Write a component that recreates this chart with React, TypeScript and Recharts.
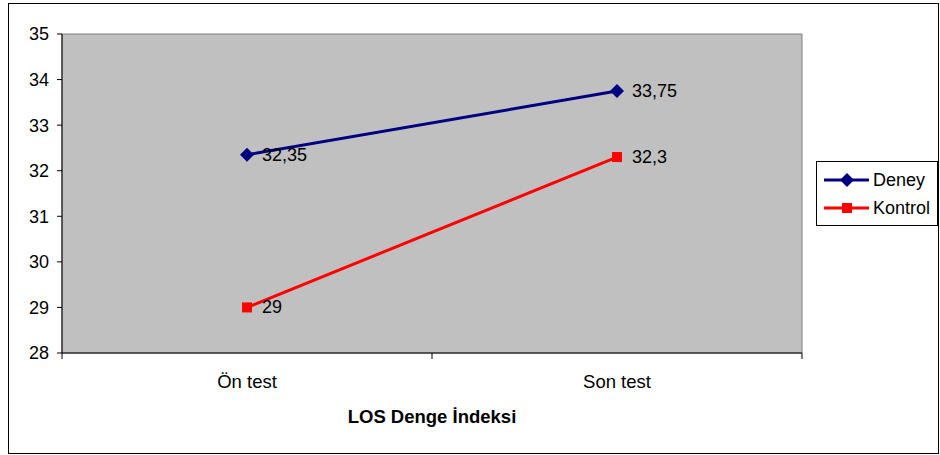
import { LineChart, Line, XAxis, YAxis, CartesianGrid, ReferenceArea, LabelList } from "recharts"

const categories = ["Ön test", "Son test"]
const deney = [32.35, 33.75]
const kontrol = [29, 32.3]
const yTicks = [28, 29, 30, 31, 32, 33, 34, 35]

const data = categories.map((name, i) => ({
  x: i + 0.5,
  name,
  deney: deney[i],
  kontrol: kontrol[i],
}))

const FONT = "'Liberation Sans', Arial, sans-serif"

const fmt = (v: number) => String(v).replace(".", ",")

// ticks sit between categories, labels sit at their centres
function XTick(props: any) {
  const { x, y, payload } = props
  const v = payload.value
  if (Number.isInteger(v)) {
    return <line x1={x} y1={y - 8} x2={x} y2={y - 2} stroke="#000" strokeWidth={1} />
  }
  const label = categories[Math.floor(v)]
  return (
    <text x={x} y={y + 27} textAnchor="middle" fontSize={18.5} fontFamily={FONT} fill="#000">
      {label}
    </text>
  )
}

function Diamond(props: any) {
  const { cx, cy } = props
  if (cx == null || cy == null) return null
  return <path d={`M${cx},${cy - 7} L${cx + 7},${cy} L${cx},${cy + 7} L${cx - 7},${cy} Z`} fill="#000080" />
}

function Square(props: any) {
  const { cx, cy } = props
  if (cx == null || cy == null) return null
  return <rect x={cx - 5} y={cy - 5} width={10} height={10} fill="#FF0000" />
}

function ValueLabel(props: any) {
  const { x, y, value } = props
  return (
    <text x={x + 15} y={y} dominantBaseline="central" fontSize={18} fontFamily={FONT} fill="#000">
      {fmt(value)}
    </text>
  )
}

function LegendBox() {
  const items = [
    { name: "Deney", color: "#000080", marker: "diamond" },
    { name: "Kontrol", color: "#FF0000", marker: "square" },
  ]
  return (
    <div
      style={{
        position: "absolute",
        left: 816,
        top: 161,
        width: 122,
        height: 65,
        border: "1px solid #000",
        background: "#fff",
        fontFamily: FONT,
        fontSize: 18,
        boxSizing: "border-box",
        paddingTop: 4,
      }}
    >
      {items.map((it) => (
        <div key={it.name} style={{ display: "flex", alignItems: "center", height: 28 }}>
          <svg width={52} height={20} style={{ marginLeft: 4 }}>
            <line x1={3} y1={10} x2={48} y2={10} stroke={it.color} strokeWidth={3} />
            {it.marker === "diamond" ? (
              <path d="M26,3 L33,10 L26,17 L19,10 Z" fill={it.color} />
            ) : (
              <rect x={21} y={5} width={10} height={10} fill={it.color} />
            )}
          </svg>
          <span style={{ color: "#000", lineHeight: 1 }}>{it.name}</span>
        </div>
      ))}
    </div>
  )
}

export default function App() {
  return (
    <div style={{ position: "absolute", left: 0, top: 0, width: 940, height: 455, background: "#fff" }}>
      <div
        style={{
          position: "absolute",
          left: 8,
          top: 3,
          width: 929,
          height: 449,
          border: "1px solid #000",
          boxSizing: "content-box",
        }}
      />
      <div style={{ position: "absolute", left: 0, top: 0 }}>
        <LineChart
          width={940}
          height={455}
          data={data}
          margin={{ top: 34, right: 138, bottom: 0, left: 0 }}
        >
          <CartesianGrid horizontal={false} vertical={false} fill="#C0C0C0" />
          <ReferenceArea x1={0} x2={2} y1={28} y2={35} fill="none" stroke="#808080" strokeWidth={1} />
          <XAxis
            dataKey="x"
            type="number"
            domain={[0, 2]}
            ticks={[0, 0.5, 1, 1.5, 2]}
            interval={0}
            height={102}
            tickLine={false}
            axisLine={{ stroke: "#000" }}
            tick={<XTick />}
            label={{
              value: "LOS Denge İndeksi",
              position: "insideBottom",
              offset: 32,
              style: { fontSize: 18.5, fontWeight: "bold", fontFamily: FONT, fill: "#000" },
            }}
          />
          <YAxis
            domain={[28, 35]}
            ticks={yTicks}
            interval={0}
            width={62}
            tickSize={5}
            tickMargin={8}
            axisLine={{ stroke: "#000" }}
            tickLine={{ stroke: "#000" }}
            tick={{ fontSize: 18, fill: "#000", fontFamily: FONT }}
          />
          <Line
            dataKey="deney"
            name="Deney"
            stroke="#000080"
            strokeWidth={3}
            dot={<Diamond />}
            activeDot={false}
            isAnimationActive={false}
          >
            <LabelList dataKey="deney" content={<ValueLabel />} />
          </Line>
          <Line
            dataKey="kontrol"
            name="Kontrol"
            stroke="#FF0000"
            strokeWidth={3}
            dot={<Square />}
            activeDot={false}
            isAnimationActive={false}
          >
            <LabelList dataKey="kontrol" content={<ValueLabel />} />
          </Line>
        </LineChart>
      </div>
      <LegendBox />
    </div>
  )
}
